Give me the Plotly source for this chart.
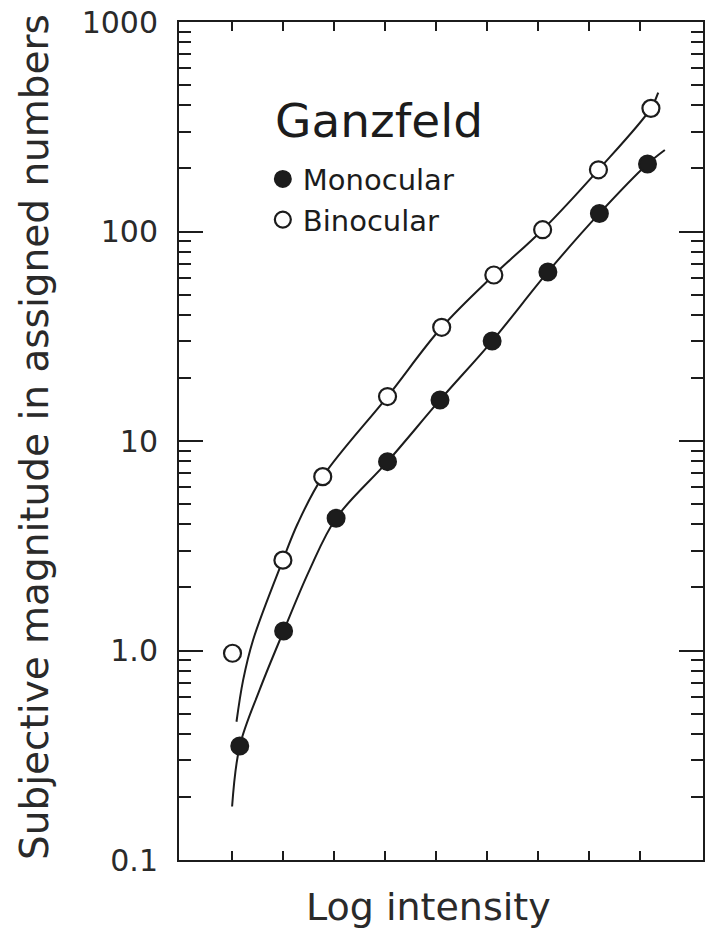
import plotly.graph_objects as go

# ---- data (x in log-intensity tick units, y in assigned numbers) ----
mono_x = [0.156, 1.016, 2.045, 3.053, 4.082, 5.104, 6.197, 7.207, 8.150]
mono_y = [0.35, 1.24, 4.28, 7.97, 15.7, 30.0, 64.1, 122, 210]

bino_x = [0.014, 1.002, 1.783, 3.053, 4.115, 5.137, 6.094, 7.188, 8.217]
bino_y = [0.97, 2.70, 6.76, 16.3, 34.9, 62.0, 102, 197, 387]

mono_curve_x = [0.006, 0.156, 0.547, 1.016, 1.523, 2.045, 3.053, 4.082, 5.104, 6.197, 7.207, 8.150, 8.49]
mono_curve_y = [0.18, 0.35, 0.65, 1.24, 2.42, 4.28, 7.97, 15.7, 30.0, 64.1, 122, 210, 245]

bino_curve_x = [0.092, 0.221, 0.416, 1.002, 1.295, 1.783, 3.053, 4.115, 5.137, 6.094, 7.188, 8.217, 8.36]
bino_curve_y = [0.457, 0.72, 1.12, 2.70, 4.05, 6.76, 16.3, 34.9, 62.0, 102, 197, 387, 460]

x_ticks = [0, 1, 2, 3, 4, 5, 6, 7, 8]
y_ticks = [0.1, 1, 10, 100, 1000]
y_ticktext = ["0.1", "1.0", "10", "100", "1000"]

INK = "#1c1c1c"
TXT = "#2a2a2a"
FONT = "DejaVu Sans"

fig = go.Figure()
fig.add_trace(go.Scatter(x=mono_curve_x, y=mono_curve_y, mode="lines",
                         line=dict(color=INK, width=2, shape="spline", smoothing=1),
                         showlegend=False, hoverinfo="skip"))
fig.add_trace(go.Scatter(x=bino_curve_x, y=bino_curve_y, mode="lines",
                         line=dict(color=INK, width=2, shape="spline", smoothing=1),
                         showlegend=False, hoverinfo="skip"))
fig.add_trace(go.Scatter(x=mono_x, y=mono_y, mode="markers", name="Monocular",
                         marker=dict(size=17, color=INK, line=dict(color=INK, width=2))))
fig.add_trace(go.Scatter(x=bino_x, y=bino_y, mode="markers", name="Binocular",
                         marker=dict(size=17, color="white", line=dict(color=INK, width=2.2))))

fig.update_layout(
    width=707, height=933,
    margin=dict(l=179, r=2, t=22, b=73),
    paper_bgcolor="white", plot_bgcolor="white",
    font=dict(family=FONT, color=INK),
    showlegend=True,
    legend=dict(x=0.16, y=0.843, xanchor="left", yanchor="top",
                font=dict(family=FONT, size=29, color=INK),
                bgcolor="rgba(0,0,0,0)", borderwidth=0, tracegroupgap=0,
                itemsizing="trace"),
)
fig.update_xaxes(range=[-1.035, 9.238], tickvals=x_ticks, showticklabels=False,
                 ticks="inside", ticklen=9, tickwidth=2, tickcolor=INK,
                 showline=True, linewidth=2, linecolor=INK, mirror="ticks",
                 showgrid=False, zeroline=False)
fig.update_yaxes(type="log", range=[-1, 3], tickvals=y_ticks, ticktext=y_ticktext,
                 ticks="inside", ticklen=24, tickwidth=2, tickcolor=INK,
                 minor=dict(ticks="inside", ticklen=12, tickwidth=2, tickcolor=INK,
                            dtick="D1", showgrid=False),
                 showline=True, linewidth=2, linecolor=INK, mirror="allticks",
                 showgrid=False, zeroline=False, ticklabelstandoff=13,
                 tickfont=dict(family=FONT, size=30, color=TXT))

fig.add_annotation(text="Subjective magnitude in assigned numbers", textangle=-90,
                   xref="paper", yref="paper", x=0, y=0.5, xanchor="center", yanchor="middle",
                   xshift=-145, yshift=4, showarrow=False,
                   font=dict(family=FONT, size=39, color=TXT))
fig.add_annotation(text="Log intensity", xref="paper", yref="paper", x=0.477, y=0,
                   xanchor="center", yanchor="middle", yshift=-47, showarrow=False,
                   font=dict(family=FONT, size=38, color=TXT))
fig.add_annotation(text="Ganzfeld", xref="paper", yref="paper", x=(273 - 179) / 526, y=(860 - 121) / 838,
                   xanchor="left", yanchor="middle", showarrow=False,
                   font=dict(family=FONT, size=47, color=INK))

fig.write_html("out.html", config={"displayModeBar": False},
               post_script="document.body.style.margin='0';document.body.style.overflow='hidden';")
